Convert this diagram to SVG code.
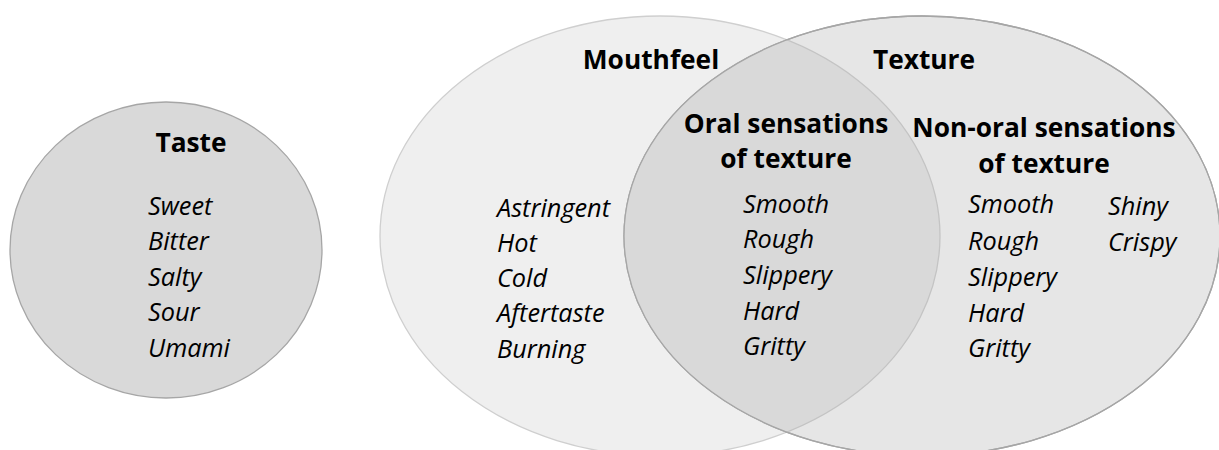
<svg xmlns="http://www.w3.org/2000/svg" width="1219" height="450" viewBox="0 0 1219 450">
<style>
.t{font-family:"Open Sans","Noto Sans","Liberation Sans",sans-serif;font-weight:bold;font-size:26.3px;fill:#000;text-anchor:middle}
.i{font-family:"Open Sans","Noto Sans","Liberation Sans",sans-serif;font-style:italic;font-size:25.3px;fill:#000}
</style>
<defs>
<clipPath id="texClip"><ellipse cx="922" cy="236" rx="298" ry="220"/></clipPath>
</defs>
<g id="taste">
<ellipse cx="166" cy="250" rx="156" ry="148" fill="#d9d9d9" stroke="#a6a6a6" stroke-width="1.3"/>
<text class="t" x="191" y="152">Taste</text>
<text class="i" x="148" y="215">Sweet</text>
<text class="i" x="148" y="250">Bitter</text>
<text class="i" x="148" y="286">Salty</text>
<text class="i" x="148" y="321">Sour</text>
<text class="i" x="148" y="357">Umami</text>
</g>
<g id="mouthfeel">
<ellipse cx="660" cy="236" rx="280" ry="220" fill="#efefef" stroke="#cfcfcf" stroke-width="1.3"/>
</g>
<g id="texture">
<ellipse cx="922" cy="236" rx="298" ry="220" fill="#e6e6e6" stroke="#a6a6a6" stroke-width="1.3"/>
</g>
<g id="oral">
<ellipse cx="660" cy="236" rx="280" ry="220" fill="#d9d9d9" stroke="#c4c4c4" stroke-width="1.3" clip-path="url(#texClip)"/>
<ellipse cx="922" cy="236" rx="298" ry="220" fill="none" stroke="#a6a6a6" stroke-width="1.3"/>
</g>
<g id="mouthfeel-labels">
<text class="t" x="651" y="69">Mouthfeel</text>
<text class="i" x="497" y="217">Astringent</text>
<text class="i" x="497" y="252">Hot</text>
<text class="i" x="497" y="287">Cold</text>
<text class="i" x="497" y="322">Aftertaste</text>
<text class="i" x="497" y="358">Burning</text>
</g>
<g id="oral-labels">
<text class="t" x="786" y="133">Oral sensations</text>
<text class="t" x="786" y="168">of texture</text>
<text class="i" x="743" y="213">Smooth</text>
<text class="i" x="743" y="248">Rough</text>
<text class="i" x="743" y="284">Slippery</text>
<text class="i" x="743" y="320">Hard</text>
<text class="i" x="743" y="355">Gritty</text>
</g>
<g id="texture-labels">
<text class="t" x="924" y="69">Texture</text>
<text class="t" x="1044" y="137">Non-oral sensations</text>
<text class="t" x="1044" y="173">of texture</text>
<text class="i" x="968" y="213">Smooth</text>
<text class="i" x="968" y="250">Rough</text>
<text class="i" x="968" y="286">Slippery</text>
<text class="i" x="968" y="322">Hard</text>
<text class="i" x="968" y="357">Gritty</text>
<text class="i" x="1108" y="215">Shiny</text>
<text class="i" x="1108" y="251">Crispy</text>
</g>
</svg>
